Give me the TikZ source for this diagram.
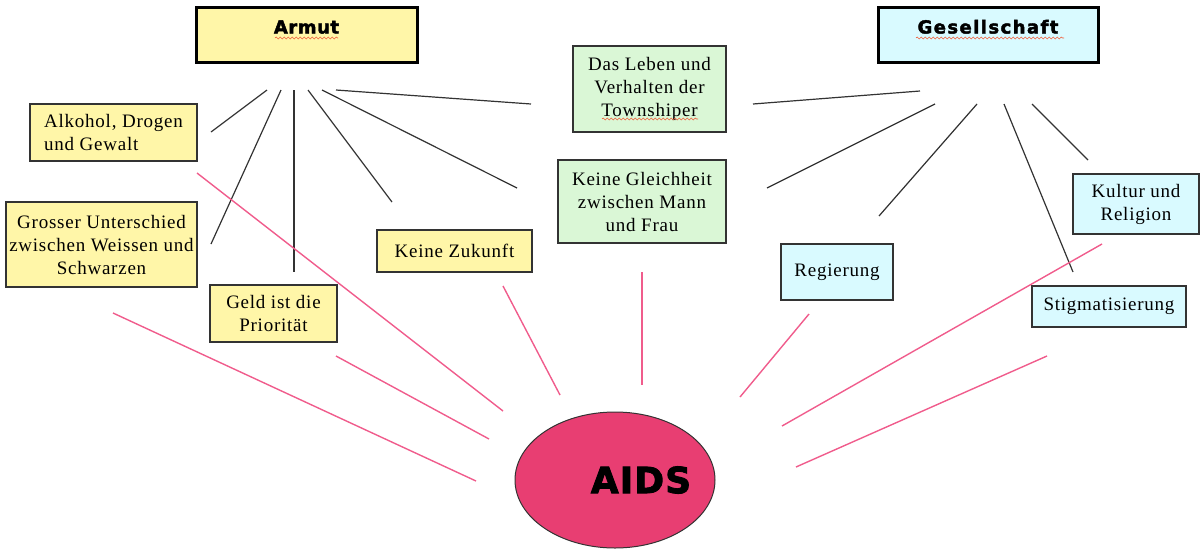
\documentclass[tikz,border=0pt]{standalone}
\usepackage{fontspec}
\setmainfont{Liberation Serif}[LetterSpace=4]
\newfontfamily\headfont{DejaVu Sans}[LetterSpace=3, BoldFeatures={FakeBold=2.4}]
\usetikzlibrary{positioning, shapes.geometric, decorations.pathmorphing}

\definecolor{boxyellow}{RGB}{255,246,168}
\definecolor{boxcyan}{RGB}{217,250,255}
\definecolor{boxgreen}{RGB}{218,247,214}
\definecolor{aidspink}{RGB}{232,62,114}
\definecolor{linepink}{RGB}{240,92,140}
\definecolor{wavyred}{RGB}{240,95,60}

\tikzset{
  textbox/.style={draw=black!80, line width=1.2pt, inner sep=0pt, align=center,
    font=\fontsize{19}{23}\selectfont},
  titlebox/.style={draw=black, line width=3pt, inner sep=0pt,
    text height=13pt, text depth=15pt, font=\headfont\bfseries\fontsize{18}{21}\selectfont},
  blackline/.style={draw=black!80, line width=1.2pt},
  pinkline/.style={draw=linepink, line width=1.4pt},
  wavy/.style={draw=wavyred, line width=0.6pt, decorate,
    decoration={snake, segment length=4pt, amplitude=1pt}}
}

\begin{document}
\begin{tikzpicture}[x=1pt, y=-1pt]
  \useasboundingbox (0,0) rectangle (1200,550);

  % headings
  \node[titlebox, fill=boxyellow, minimum width=221pt, minimum height=55pt] (armut) at (306.5,34.5) {Armut};
  \node[titlebox, fill=boxcyan, minimum width=220pt, minimum height=55pt] (gesellschaft) at (988,34.5) {\addfontfeatures{LetterSpace=8}Gesellschaft};

  % Armut boxes
  \node[textbox, fill=boxyellow, minimum width=167pt, minimum height=57pt, align=left] (alkohol) at (113.5,132.5) {Alkohol, Drogen\\und Gewalt};
  \begin{scope}
    \clip (5,201) rectangle (198,288);
    \node[textbox, fill=boxyellow, minimum width=191pt, minimum height=85pt] (unterschied) at (101.5,244.5) {Grosser Unterschied\\zwischen Weissen und\\Schwarzen};
  \end{scope}
  \node[textbox, fill=boxyellow, minimum width=127pt, minimum height=57pt] (geld) at (273.5,313.5) {Geld ist die\\Priorität};
  \node[textbox, fill=boxyellow, minimum width=155pt, minimum height=42pt] (zukunft) at (454.5,251) {Keine Zukunft};

  % shared boxes
  \node[textbox, fill=boxgreen, minimum width=153pt, minimum height=86pt] (leben) at (649.5,89) {Das Leben und\\Verhalten der\\Townshiper};
  \node[textbox, fill=boxgreen, minimum width=168pt, minimum height=83pt] (gleichheit) at (642,201.5) {Keine Gleichheit\\zwischen Mann\\und Frau};

  % Gesellschaft boxes
  \node[textbox, fill=boxcyan, minimum width=112pt, minimum height=56pt] (regierung) at (837,272) {Regierung};
  \node[textbox, fill=boxcyan, minimum width=126pt, minimum height=60pt] (kultur) at (1136,204) {Kultur und\\Religion};
  \node[textbox, fill=boxcyan, minimum width=154pt, minimum height=41pt] (stigma) at (1109,306.5) {Stigmatisierung};

  % AIDS
  \node[ellipse, draw=black!80, line width=1pt, fill=aidspink, inner sep=0pt, minimum width=200pt, minimum height=136pt,
    font=\headfont\bfseries\fontsize{36}{40}\selectfont] (aids) at (615,480) {\hspace*{52pt}\makebox[0pt]{AIDS}};

  % red wavy underlines
  \draw[wavy] (275,38) -- (338,38);
  \draw[wavy] (916,38) -- (1064,38);
  \draw[wavy] (602,119) -- (698,119);

  % lines below Armut
  \coordinate (arm1) at (267,90);  \coordinate (to-alkohol) at (211,132);
  \coordinate (arm2) at (281,90);  \coordinate (to-unterschied) at (211,244);
  \coordinate (arm3) at (294,90);  \coordinate (to-geld) at (294,272);
  \coordinate (arm4) at (308,90);  \coordinate (to-zukunft) at (392,202);
  \coordinate (arm5) at (322,90);  \coordinate (to-gleichheit) at (517,188);
  \coordinate (arm6) at (336,90);  \coordinate (to-leben) at (531,104);
  \draw[blackline] (arm1) -- (to-alkohol);
  \draw[blackline] (arm2) -- (to-unterschied);
  \draw[blackline] (arm3) -- (to-geld);
  \draw[blackline] (arm4) -- (to-zukunft);
  \draw[blackline] (arm5) -- (to-gleichheit);
  \draw[blackline] (arm6) -- (to-leben);

  % lines below Gesellschaft
  \coordinate (ges1) at (920,91);   \coordinate (from-leben) at (753,104);
  \coordinate (ges2) at (935,104);  \coordinate (from-gleichheit) at (767,188);
  \coordinate (ges3) at (977,104);  \coordinate (to-regierung) at (879,216);
  \coordinate (ges4) at (1004,104); \coordinate (to-stigma) at (1073,272);
  \coordinate (ges5) at (1032,104); \coordinate (to-kultur) at (1088,160);
  \draw[blackline] (ges1) -- (from-leben);
  \draw[blackline] (ges2) -- (from-gleichheit);
  \draw[blackline] (ges3) -- (to-regierung);
  \draw[blackline] (ges4) -- (to-stigma);
  \draw[blackline] (ges5) -- (to-kultur);

  % lines towards AIDS
  \coordinate (p-alkohol) at (197,173);     \coordinate (q-alkohol) at (503,411);
  \coordinate (p-unterschied) at (113,313); \coordinate (q-unterschied) at (476,481);
  \coordinate (p-geld) at (336,356);        \coordinate (q-geld) at (489,439);
  \coordinate (p-zukunft) at (503,286);     \coordinate (q-zukunft) at (560,395);
  \coordinate (p-gleichheit) at (642,272);  \coordinate (q-gleichheit) at (642,385);
  \coordinate (p-regierung) at (809,314);   \coordinate (q-regierung) at (740,397);
  \coordinate (p-kultur) at (1102,244);     \coordinate (q-kultur) at (782,426);
  \coordinate (p-stigma) at (1047,356);     \coordinate (q-stigma) at (796,467);
  \draw[pinkline] (p-alkohol) -- (q-alkohol);
  \draw[pinkline] (p-unterschied) -- (q-unterschied);
  \draw[pinkline] (p-geld) -- (q-geld);
  \draw[pinkline] (p-zukunft) -- (q-zukunft);
  \draw[pinkline] (p-gleichheit) -- (q-gleichheit);
  \draw[pinkline] (p-regierung) -- (q-regierung);
  \draw[pinkline] (p-kultur) -- (q-kultur);
  \draw[pinkline] (p-stigma) -- (q-stigma);
\end{tikzpicture}
\end{document}
